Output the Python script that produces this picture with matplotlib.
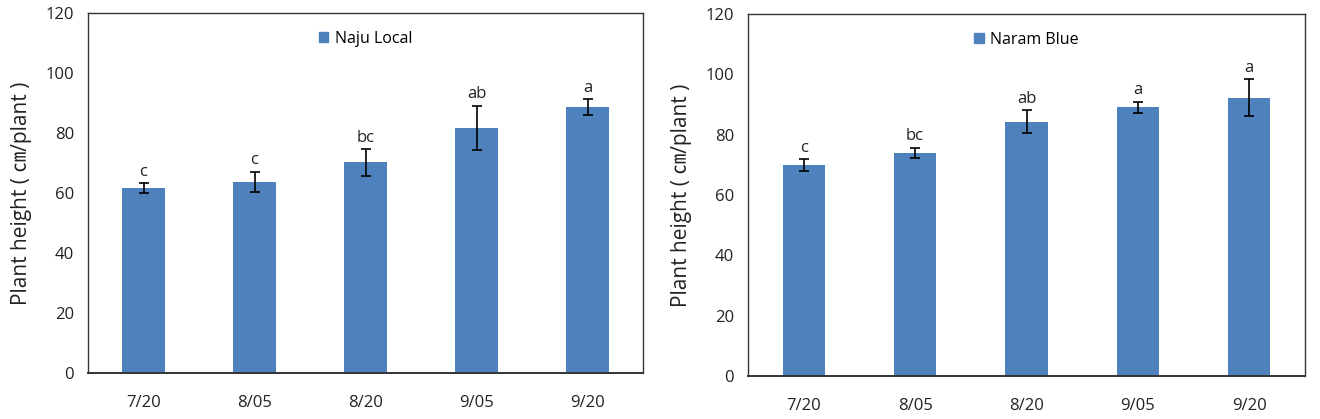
import matplotlib.pyplot as plt
from matplotlib.patches import Patch

dates = ['7/20', '8/05', '8/20', '9/05', '9/20']

naju_height = [61.7, 63.8, 70.2, 81.7, 88.6]
naju_err = [1.6, 3.3, 4.4, 7.4, 2.7]
naju_letters = ['c', 'c', 'bc', 'ab', 'a']

naram_height = [69.8, 73.9, 84.3, 89.1, 92.3]
naram_err = [2.0, 1.7, 3.8, 1.8, 6.1]
naram_letters = ['c', 'bc', 'ab', 'a', 'a']

plt.rcParams['font.family'] = ['Open Sans', 'Noto Sans CJK KR', 'DejaVu Sans']
bar_color = '#4F81BD'

fig = plt.figure(figsize=(13.2, 4.19), dpi=100)
ax1 = fig.add_axes([88 / 1320, 46 / 419, 555 / 1320, 360 / 419])
ax2 = fig.add_axes([748 / 1320, 43 / 419, 557 / 1320, 362 / 419])


def draw(ax, heights, errs, letters, name):
    x = range(len(dates))
    ax.bar(x, heights, width=0.38, color=bar_color, zorder=2)
    ax.errorbar(x, heights, yerr=errs, fmt='none', ecolor='black',
                elinewidth=1.2, capsize=3.5, capthick=1.2, zorder=3)
    for i, (h, e, t) in enumerate(zip(heights, errs, letters)):
        ax.text(i, h + e + 1.2, t, ha='center', va='bottom', fontsize=12, color='#222222')
    ax.set_xlim(-0.5, len(dates) - 0.5)
    ax.set_ylim(0, 120)
    ax.set_yticks(range(0, 121, 20))
    ax.set_xticks(list(x))
    ax.set_xticklabels(dates)
    ax.tick_params(axis='both', length=0, labelsize=12, colors='#222222', pad=10)
    ax.tick_params(axis='x', pad=16)
    ax.set_ylabel('Plant height ( ㎝/plant )', fontsize=15, color='#222222', labelpad=10)
    for s in ax.spines.values():
        s.set_linewidth(1.0)
        s.set_color('#333333')
    ax.spines['bottom'].set_linewidth(1.4)
    ax.legend(handles=[Patch(color=bar_color, label=name)], loc='upper center',
              frameon=False, fontsize=11.5, handlelength=0.6, handleheight=0.6,
              handletextpad=0.4, bbox_to_anchor=(0.5, 0.99))


draw(ax1, naju_height, naju_err, naju_letters, 'Naju Local')
draw(ax2, naram_height, naram_err, naram_letters, 'Naram Blue')

fig.savefig('out.png', dpi=100)
